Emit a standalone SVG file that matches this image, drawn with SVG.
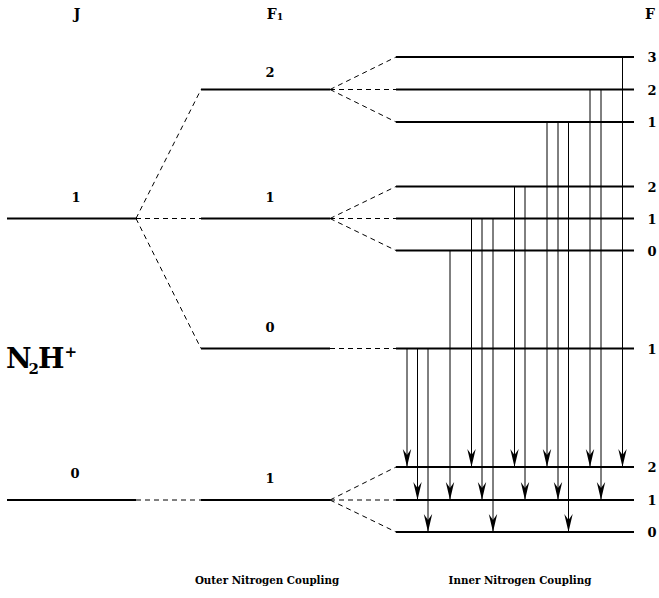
<svg xmlns="http://www.w3.org/2000/svg" width="659" height="598" viewBox="0 0 659 598">
  <style>
    .lvl { stroke: #000; stroke-width: 2; fill: none; }
    .dash { stroke: #000; stroke-width: 1; stroke-dasharray: 5 4; fill: none; }
    .tr { stroke: #000; stroke-width: 1; fill: none; marker-end: url(#ah); }
    text { font-family: "DejaVu Serif", "Liberation Serif", serif; font-weight: bold; fill: #000; }
    .hd { font-size: 14px; text-anchor: middle; }
    .num { font-size: 13px; text-anchor: middle; }
    .cap { font-size: 10.3px; text-anchor: middle; }
  </style>
  <defs>
    <marker id="ah" viewBox="-18 -5 19 10" refX="0" refY="0" markerWidth="19" markerHeight="10" markerUnits="userSpaceOnUse" orient="auto">
      <path d="M0,0 L-18,-4.2 L-12,0 L-18,4.2 Z" fill="#000"/>
    </marker>
  </defs>
  <rect width="659" height="598" fill="#fff"/>

  <!-- column headings -->
  <g id="headings">
    <text class="hd" x="77" y="19">J</text>
    <text class="hd" x="275" y="19">F<tspan font-size="9.5px" dy="1">1</tspan></text>
    <text class="hd" x="650" y="19">F</text>
  </g>

  <!-- J levels -->
  <g id="J1">
    <line class="lvl" x1="7" y1="218.5" x2="136" y2="218.5"/>
    <text class="num" x="76" y="202">1</text>
  </g>
  <g id="J0">
    <line class="lvl" x1="7" y1="500" x2="136" y2="500"/>
    <text class="num" x="75" y="478">0</text>
  </g>

  <!-- F1 levels -->
  <g id="F1-2">
    <line class="lvl" x1="201" y1="89.5" x2="330" y2="89.5"/>
    <text class="num" x="270" y="77">2</text>
  </g>
  <g id="F1-1">
    <line class="lvl" x1="201" y1="218.5" x2="330" y2="218.5"/>
    <text class="num" x="270" y="202">1</text>
  </g>
  <g id="F1-0">
    <line class="lvl" x1="201" y1="348.5" x2="330" y2="348.5"/>
    <text class="num" x="270" y="332">0</text>
  </g>
  <g id="F1-1b">
    <line class="lvl" x1="201" y1="500" x2="330" y2="500"/>
    <text class="num" x="270" y="483">1</text>
  </g>

  <!-- F levels -->
  <g id="F-3a">
    <line class="lvl" x1="396" y1="57" x2="634" y2="57"/>
    <text class="num" x="652" y="62">3</text>
  </g>
  <g id="F-2a">
    <line class="lvl" x1="396" y1="89.5" x2="634" y2="89.5"/>
    <text class="num" x="652" y="94.5">2</text>
  </g>
  <g id="F-1a">
    <line class="lvl" x1="396" y1="122" x2="634" y2="122"/>
    <text class="num" x="652" y="127">1</text>
  </g>
  <g id="F-2b">
    <line class="lvl" x1="396" y1="186.5" x2="634" y2="186.5"/>
    <text class="num" x="652" y="191.5">2</text>
  </g>
  <g id="F-1b">
    <line class="lvl" x1="396" y1="218.5" x2="634" y2="218.5"/>
    <text class="num" x="652" y="223.5">1</text>
  </g>
  <g id="F-0b">
    <line class="lvl" x1="396" y1="250.5" x2="634" y2="250.5"/>
    <text class="num" x="652" y="255.5">0</text>
  </g>
  <g id="F-1c">
    <line class="lvl" x1="396" y1="348.5" x2="634" y2="348.5"/>
    <text class="num" x="652" y="354">1</text>
  </g>
  <g id="F-2d">
    <line class="lvl" x1="396" y1="467" x2="634" y2="467"/>
    <text class="num" x="652" y="472">2</text>
  </g>
  <g id="F-1d">
    <line class="lvl" x1="396" y1="500" x2="634" y2="500"/>
    <text class="num" x="652" y="505">1</text>
  </g>
  <g id="F-0d">
    <line class="lvl" x1="396" y1="532" x2="634" y2="532"/>
    <text class="num" x="652" y="537">0</text>
  </g>

  <!-- hyperfine splitting connectors -->
  <g id="connectors">
    <line class="dash" x1="136" y1="218.5" x2="201" y2="89.5"/>
    <line class="dash" x1="136" y1="218.5" x2="201" y2="218.5"/>
    <line class="dash" x1="136" y1="218.5" x2="201" y2="348.5"/>
    <line class="dash" x1="136" y1="500" x2="201" y2="500"/>

    <line class="dash" x1="330" y1="89.5" x2="396" y2="57"/>
    <line class="dash" x1="330" y1="89.5" x2="396" y2="89.5"/>
    <line class="dash" x1="330" y1="89.5" x2="396" y2="122"/>

    <line class="dash" x1="330" y1="218.5" x2="396" y2="186.5"/>
    <line class="dash" x1="330" y1="218.5" x2="396" y2="218.5"/>
    <line class="dash" x1="330" y1="218.5" x2="396" y2="250.5"/>

    <line class="dash" x1="330" y1="348.5" x2="396" y2="348.5"/>

    <line class="dash" x1="330" y1="500" x2="396" y2="467"/>
    <line class="dash" x1="330" y1="500" x2="396" y2="500"/>
    <line class="dash" x1="330" y1="500" x2="396" y2="532"/>
  </g>

  <!-- allowed transitions -->
  <g id="transitions">
    <line class="tr" x1="407" y1="348.5" x2="407" y2="467"/>
    <line class="tr" x1="417.5" y1="348.5" x2="417.5" y2="500"/>
    <line class="tr" x1="428" y1="348.5" x2="428" y2="532"/>
    <line class="tr" x1="450" y1="250.5" x2="450" y2="500"/>
    <line class="tr" x1="471.5" y1="218.5" x2="471.5" y2="467"/>
    <line class="tr" x1="482" y1="218.5" x2="482" y2="500"/>
    <line class="tr" x1="493" y1="218.5" x2="493" y2="532"/>
    <line class="tr" x1="514.5" y1="186.5" x2="514.5" y2="467"/>
    <line class="tr" x1="525" y1="186.5" x2="525" y2="500"/>
    <line class="tr" x1="547" y1="122" x2="547" y2="467"/>
    <line class="tr" x1="558" y1="122" x2="558" y2="500"/>
    <line class="tr" x1="568.5" y1="122" x2="568.5" y2="532"/>
    <line class="tr" x1="590" y1="89.5" x2="590" y2="467"/>
    <line class="tr" x1="601" y1="89.5" x2="601" y2="500"/>
    <line class="tr" x1="622.5" y1="57" x2="622.5" y2="467"/>
  </g>

  <!-- molecule label -->
  <g id="molecule">
    <text x="6" y="368" font-size="28px">N<tspan font-size="15px" dx="-3" dy="6">2</tspan><tspan font-size="28px" dx="-1" dy="-6">H</tspan><tspan font-size="15px" dy="-11">+</tspan></text>
  </g>

  <!-- captions -->
  <g id="captions">
    <text class="cap" x="267" y="584">Outer Nitrogen Coupling</text>
    <text class="cap" x="520" y="584">Inner Nitrogen Coupling</text>
  </g>
</svg>
